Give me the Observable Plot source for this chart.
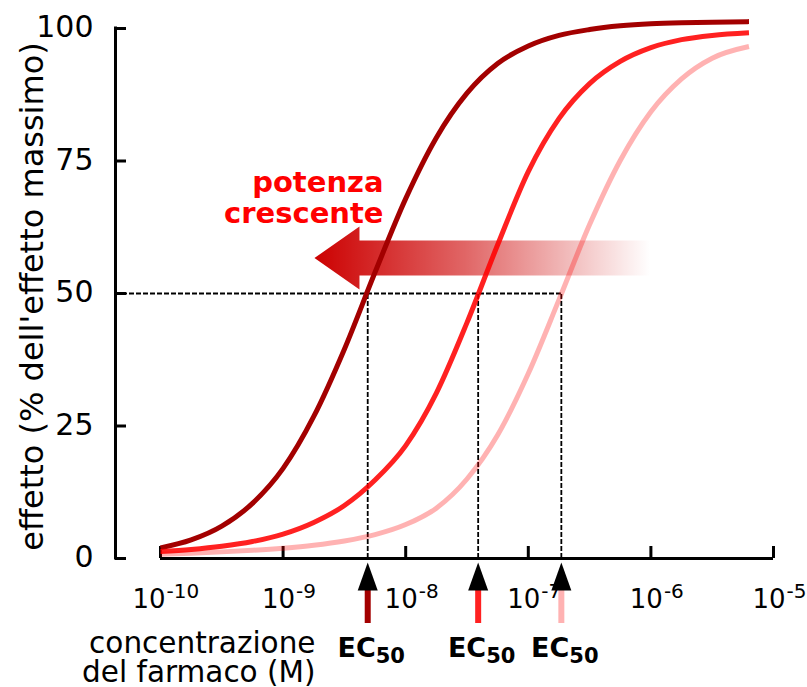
<!DOCTYPE html>
<html><head><meta charset="utf-8">
<script src="https://cdn.jsdelivr.net/npm/d3@7"></script>
<script src="https://cdn.jsdelivr.net/npm/@observablehq/plot@0.6"></script>
<style>
html,body{margin:0;padding:0;background:#fff;}
svg{display:block;}
</style>
</head><body><div id="chart"></div>
<script>
// ---- data ----
const logConc = [-10, -9.75, -9.5, -9.25, -9, -8.75, -8.5, -8.25, -8, -7.75, -7.5, -7.25, -7, -6.75, -6.5, -6.25, -6, -5.75, -5.5, -5.2];
const effectHigh = [2.0, 3.5, 6.1, 10.4, 17.0, 26.8, 39.5, 54.0, 67.9, 79.4, 87.8, 93.4, 96.7, 98.7, 99.8, 100.5, 100.9, 101.1, 101.2, 101.3];
const effectMid  = [1.3, 1.7, 2.3, 3.2, 4.6, 6.8, 10.0, 14.8, 21.3, 31.2, 44.5, 59.2, 73.0, 83.0, 89.6, 93.8, 96.4, 97.9, 98.7, 99.2];
const effectLow  = [0.8, 1.0, 1.25, 1.55, 1.95, 2.5, 3.3, 4.5, 6.4, 9.5, 15.0, 23.3, 34.9, 48.8, 63.0, 75.1, 84.3, 90.5, 94.4, 96.6];
const seriesNames = ["alta", "media", "bassa"];
const ec50Values = [4.9e-9, 3.9e-8, 1.86e-7];
const yTicks = [0, 25, 50, 75, 100];
const xTicks = [1e-10, 1e-9, 1e-8, 1e-7, 1e-6, 1e-5];
const xExponents = ["-10", "-9", "-8", "-7", "-6", "-5"];
const yLabel = "effetto (% dell'effetto massimo)";
const xLabel = "concentrazione\ndel farmaco (M)";
const arrowLabel = "potenza\ncrescente";
const ecLabel = "EC";
const ecSub = "50";
const arrowFrom = 1e-6, arrowTo = 10 ** -8.74, arrowLevel = 56.6;

// ---- styles ----
const colors = {alta: "#a30000", media: "#ff0000", bassa: "#ff0000"};
const opac = {alta: 1, media: 0.87, bassa: 0.3};
const xStart = 10 ** -10.367; // where the y axis line sits

const series = [effectHigh, effectMid, effectLow];
const curveRows = [];
seriesNames.forEach((s, si) => logConc.forEach((l, i) => curveRows.push({series: s, conc: 10 ** l, effect: series[si][i]})));
const ecRows = ec50Values.map((v, i) => ({ec: v, series: seriesNames[i]}));
const tickRows = xTicks.map((v, i) => ({v, exp: xExponents[i]}));

const headSymbol = {draw(ctx) { ctx.moveTo(0, -14); ctx.lineTo(10, 14); ctx.lineTo(-10, 14); ctx.closePath(); }};

function tickLabel(rows, dxBase) {
  return [
    Plot.text(rows, {x: "v", y: 0, text: () => "10", textAnchor: "end", lineAnchor: "bottom", dx: dxBase, dy: 49, fontSize: 26, fill: "black"}),
    Plot.text(rows, {x: "v", y: 0, text: "exp", textAnchor: "start", lineAnchor: "bottom", dx: dxBase + 1, dy: 39, fontSize: 20, fill: "black"})
  ];
}

function arrowMark(index, scales) {
  const x = scales.x, y = scales.y;
  const tip = x(arrowTo), tail = x(arrowFrom), cy = y(arrowLevel);
  const headLen = 45, headHalf = 31.5, shaftHalf = 17.5;
  const g = d3.create("svg:g");
  const grad = g.append("defs").append("linearGradient").attr("id", "potGrad")
    .attr("gradientUnits", "userSpaceOnUse").attr("x1", tip).attr("x2", tail).attr("y1", 0).attr("y2", 0);
  grad.append("stop").attr("offset", 0).attr("stop-color", "#cc0000").attr("stop-opacity", 1);
  grad.append("stop").attr("offset", 0.45).attr("stop-color", "#cc0000").attr("stop-opacity", 0.6);
  grad.append("stop").attr("offset", 1).attr("stop-color", "#cc0000").attr("stop-opacity", 0);
  const p = d3.path();
  p.moveTo(tip, cy);
  p.lineTo(tip + headLen, cy - headHalf);
  p.lineTo(tip + headLen, cy - shaftHalf);
  p.lineTo(tail, cy - shaftHalf);
  p.lineTo(tail, cy + shaftHalf);
  p.lineTo(tip + headLen, cy + shaftHalf);
  p.lineTo(tip + headLen, cy + headHalf);
  p.closePath();
  g.append("path").attr("d", p.toString()).attr("fill", "url(#potGrad)");
  return g.node();
}

const chart = Plot.plot({
  width: 807, height: 687,
  marginLeft: 115, marginRight: 34, marginTop: 28, marginBottom: 129,
  x: {type: "log", domain: [xStart, 1e-5], axis: null},
  y: {domain: [0, 100], axis: null},
  style: {fontFamily: "'DejaVu Sans', sans-serif", background: "white", color: "black"},
  marks: [
    // y axis
    Plot.ruleX([xStart], {x: d => d, y1: 0, y2: 100, stroke: "black", strokeWidth: 3, strokeLinecap: "square"}),
    Plot.ruleY(yTicks, {y: d => d, x1: xStart, x2: xStart, insetRight: -11, stroke: "black", strokeWidth: 3}),
    Plot.text(yTicks, {x: xStart, y: d => d, text: d => String(d), textAnchor: "end", dx: -22, dy: -1, fontSize: 30, fill: "black"}),
    // x axis
    Plot.ruleY([0], {y: d => d, x1: xTicks[0], x2: xTicks[xTicks.length - 1], stroke: "black", strokeWidth: 3}),
    Plot.ruleX(xTicks, {x: d => d, y1: 0, y2: 0, insetTop: -12, stroke: "black", strokeWidth: 3}),
    ...tickLabel(tickRows.filter(d => d.exp.length > 2), 5),
    ...tickLabel(tickRows.filter(d => d.exp.length <= 2), 12),
    // dashed EC50 guides
    Plot.ruleY([50], {y: d => d, x1: xStart, x2: ec50Values[2], stroke: "black", strokeWidth: 1.8, strokeDasharray: "5,2"}),
    Plot.ruleX(ec50Values, {x: d => d, y1: 0, y2: 50, stroke: "black", strokeWidth: 1.8, strokeDasharray: "5,2"}),
    // potency arrow
    arrowMark,
    // curves
    ...seriesNames.map(s => Plot.line(curveRows.filter(d => d.series === s), {
      x: "conc", y: "effect", stroke: colors[s], strokeOpacity: opac[s], strokeWidth: 5, curve: "monotone-x", strokeLinecap: "butt"
    })),
    // EC50 arrows
    ...seriesNames.map((s, i) => Plot.ruleX([ecRows[i]], {x: "ec", y1: 0, y2: 0, insetTop: 32, insetBottom: -65, stroke: colors[s], strokeOpacity: opac[s], strokeWidth: 6})),
    Plot.dot(ecRows, {x: "ec", y: 0, symbol: headSymbol, r: 10, fill: "black", stroke: "none", dy: 18}),
    Plot.text(ecRows, {x: "ec", y: 0, text: () => ecLabel, textAnchor: "end", lineAnchor: "bottom", dx: 8, dy: 98, fontSize: 27, fontWeight: "bold", fill: "black"}),
    Plot.text(ecRows, {x: "ec", y: 0, text: () => ecSub, textAnchor: "start", lineAnchor: "bottom", dx: 8, dy: 104, fontSize: 21, fontWeight: "bold", fill: "black"}),
    // labels
    Plot.text([yLabel], {frameAnchor: "left", text: d => d, rotate: -90, textAnchor: "middle", lineAnchor: "bottom", dx: -73, dy: 3, fontSize: 32, fill: "black"}),
    Plot.text([xLabel], {frameAnchor: "bottom-left", text: d => d, textAnchor: "end", lineAnchor: "bottom", lineHeight: 0.98, dx: 200, dy: 123, fontSize: 29.5, fill: "black"}),
    Plot.text([arrowLabel], {frameAnchor: "top-left", text: d => d, textAnchor: "end", lineAnchor: "bottom", lineHeight: 1.04, dx: 268, dy: 194, fontSize: 29, fontWeight: "bold", fill: "#ff0000"})
  ]
});
document.getElementById("chart").appendChild(chart);
</script>
</body></html>
